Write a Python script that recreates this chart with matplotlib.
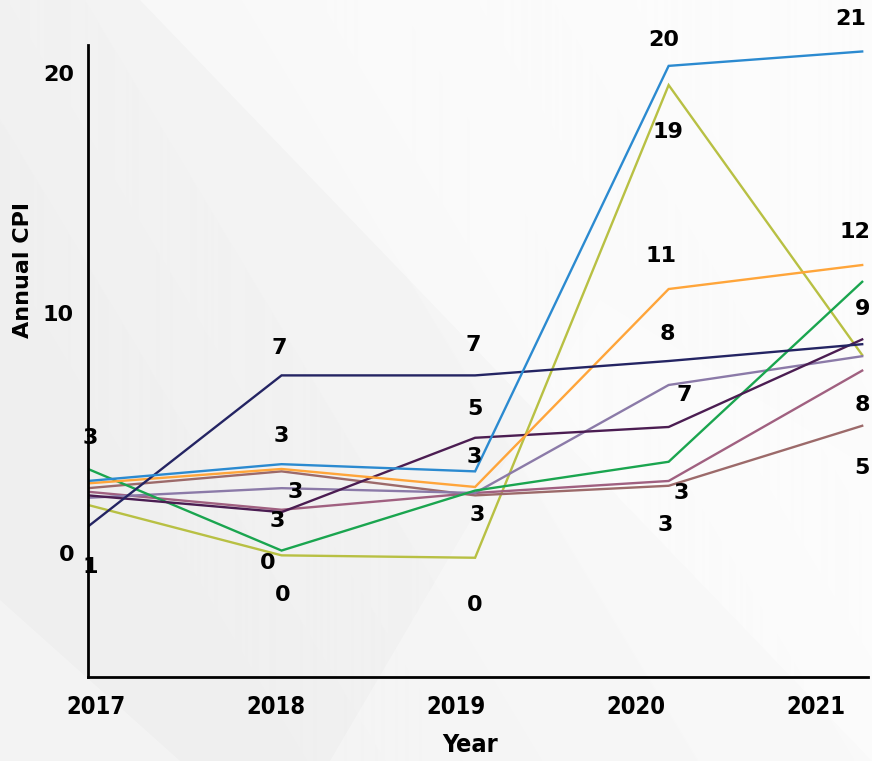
import numpy as np
import matplotlib.pyplot as plt
from matplotlib.patches import Polygon

years = ["2017", "2018", "2019", "2020", "2021"]

# annual CPI per series
cpi_blue = [3.0, 3.7, 3.4, 20.3, 20.9]
cpi_olive = [2.0, -0.1, -0.2, 19.5, 8.25]
cpi_orange = [2.9, 3.5, 2.75, 11.0, 12.0]
cpi_green = [3.5, 0.1, 2.6, 3.8, 11.3]
cpi_navy = [1.1, 7.4, 7.4, 8.0, 8.7]
cpi_plum = [2.4, 1.7, 4.8, 5.25, 8.9]
cpi_lavender = [2.3, 2.7, 2.5, 7.0, 8.2]
cpi_mauve = [2.55, 1.8, 2.5, 3.0, 7.6]
cpi_rose = [2.7, 3.4, 2.4, 2.8, 5.3]

series = [cpi_olive, cpi_rose, cpi_mauve, cpi_lavender, cpi_green,
          cpi_plum, cpi_orange, cpi_navy, cpi_blue]
colors = ["#b8c043", "#9c6a6a", "#a06080", "#8b7aa8", "#1aa54f",
          "#4b1d52", "#ffa53a", "#242463", "#2b8ad0"]

# data labels: (series, year index, text)
labels = [
    (cpi_blue, 0, "3"), (cpi_navy, 0, "1"),
    (cpi_navy, 1, "7"), (cpi_blue, 1, "3"), (cpi_lavender, 1, "3"),
    (cpi_plum, 1, "3"), (cpi_olive, 1, "0"), (cpi_green, 1, "0"),
    (cpi_navy, 2, "7"), (cpi_plum, 2, "5"), (cpi_blue, 2, "3"),
    (cpi_orange, 2, "3"), (cpi_olive, 2, "0"),
    (cpi_blue, 3, "20"), (cpi_olive, 3, "19"), (cpi_orange, 3, "11"),
    (cpi_navy, 3, "8"), (cpi_lavender, 3, "7"), (cpi_mauve, 3, "3"),
    (cpi_rose, 3, "3"),
    (cpi_blue, 4, "21"), (cpi_orange, 4, "12"), (cpi_plum, 4, "9"),
    (cpi_mauve, 4, "8"), (cpi_rose, 4, "5"),
]
# offsets in pixels for the labels above
offsets = [
    (2, 43), (2, -40),
    (-2, 27), (0, 28), (14, -4), (-4, -9), (-14, -8), (1, -44),
    (-2, 30), (0, 29), (-1, 14), (2, -28), (0, -47),
    (-5, 26), (-1, -47), (-8, 33), (-1, 27), (16, -10), (13, -12), (-3, -39),
    (-12, 32), (-7, 33), (0, 30), (0, -34), (0, -42),
]

fig = plt.figure(figsize=(8.72, 7.61), dpi=100)

# light grey background with diagonal bands
bg = fig.add_axes([0, 0, 1, 1], zorder=-10)
bg.set_xlim(0, 872)
bg.set_ylim(761, 0)
bg.axis("off")
yy, xx = np.mgrid[0:761, 0:872]
grad = 0.935 + 0.045 * np.clip((xx - 0.6 * yy + 200) / 900, 0, 1)
bg.imshow(grad, cmap="gray", vmin=0, vmax=1, extent=(0, 872, 761, 0), aspect="auto")
bg.add_patch(Polygon([(140, 0), (872, 0), (872, 761)], closed=True,
                     color="white", alpha=0.45, lw=0))
bg.add_patch(Polygon([(330, 761), (872, 761), (872, 470), (600, 300)], closed=True,
                     color="white", alpha=0.3, lw=0))
bg.add_patch(Polygon([(0, 600), (0, 761), (180, 761)], closed=True,
                     color="white", alpha=0.3, lw=0))

ax = fig.add_axes([88 / 872, 84 / 761, 780 / 872, 632 / 761])
ax.set_facecolor("none")

x = np.arange(len(years))
for vals, c in zip(series, colors):
    ax.plot(x, vals, color=c, lw=1.7, solid_joinstyle="miter")

for (vals, i, txt), (dx, dy) in zip(labels, offsets):
    ax.annotate(txt, xy=(x[i], vals[i]), xytext=(dx, dy), textcoords="offset pixels",
                ha="center", va="center", fontsize=16, fontweight="bold",
                family="DejaVu Sans", annotation_clip=False)

ax.set_xlim(0, 4.03)
ax.set_ylim(-5.17, 21.17)
ax.set_yticks([0, 10, 20])
ax.set_yticklabels(["0", "10", "20"], fontsize=16, fontweight="bold", family="DejaVu Sans")
ax.set_xticks(np.linspace(0.04, 3.76, 5))
ax.set_xticklabels(years, fontsize=17, fontweight="bold", family="DejaVu Sans",
                   fontstretch="condensed")
ax.tick_params(length=0)
ax.tick_params(axis="y", pad=10)
ax.tick_params(axis="x", pad=13)

for s in ["top", "right"]:
    ax.spines[s].set_visible(False)
for s in ["left", "bottom"]:
    ax.spines[s].set_linewidth(2)
    ax.spines[s].set_color("black")

ax.set_xlabel("Year", fontsize=18, fontweight="bold", family="DejaVu Sans",
              fontstretch="condensed")
ax.xaxis.set_label_coords(0.49, -0.088)
ax.set_ylabel("Annual CPI", fontsize=16, fontweight="bold", family="DejaVu Sans")
ax.yaxis.set_label_coords(-0.07, 0.644)

fig.savefig("out.png", dpi=100)
